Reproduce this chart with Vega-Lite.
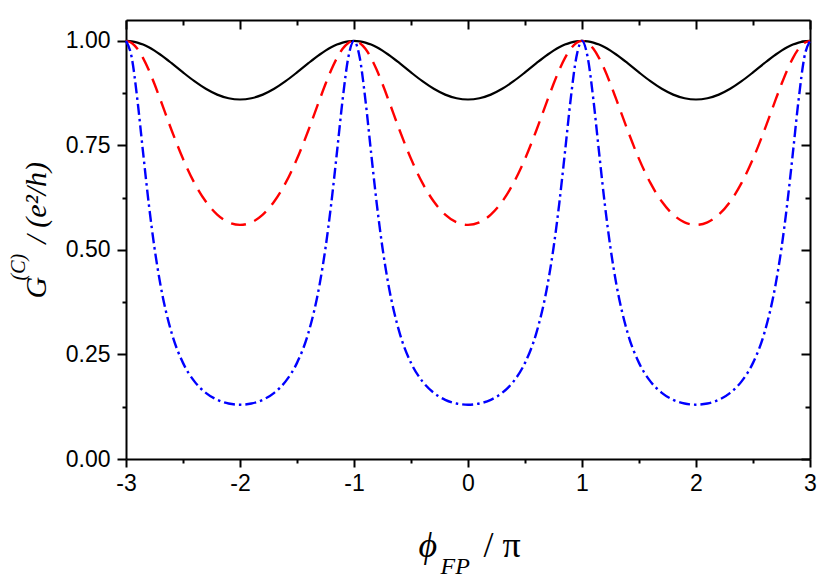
{
  "$schema": "https://vega.github.io/schema/vega-lite/v6.json",
  "width": 684,
  "height": 439,
  "autosize": {"type": "none"},
  "padding": {"left": 126, "top": 20, "right": 21, "bottom": 124},
  "background": "white",
  "config": {
    "view": {"stroke": null},
    "axis": {
      "grid": false,
      "domainColor": "black",
      "domainWidth": 2,
      "tickColor": "black",
      "tickWidth": 2,
      "labelFont": "Liberation Sans",
      "labelFontSize": 23,
      "labelColor": "black",
      "titleFont": "Liberation Serif",
      "titleFontStyle": "italic",
      "titleFontWeight": "normal",
      "titleColor": "black"
    }
  },
  "data": {
    "values": [
      {"x": -3, "k": 1, "r": 1, "b": 1},
      {"x": -2.95, "k": 0.999, "r": 0.9952, "b": 0.9604},
      {"x": -2.9, "k": 0.996, "r": 0.9811, "b": 0.8592},
      {"x": -2.85, "k": 0.9912, "r": 0.9589, "b": 0.7325},
      {"x": -2.8, "k": 0.9847, "r": 0.9302, "b": 0.6098},
      {"x": -2.75, "k": 0.9767, "r": 0.8968, "b": 0.5047},
      {"x": -2.7, "k": 0.9675, "r": 0.8606, "b": 0.42},
      {"x": -2.6, "k": 0.9467, "r": 0.7864, "b": 0.3017},
      {"x": -2.5, "k": 0.9246, "r": 0.7179, "b": 0.2299},
      {"x": -2.4, "k": 0.9036, "r": 0.6603, "b": 0.1857},
      {"x": -2.3, "k": 0.8854, "r": 0.6158, "b": 0.1583},
      {"x": -2.2, "k": 0.8715, "r": 0.5845, "b": 0.1416},
      {"x": -2.1, "k": 0.8628, "r": 0.566, "b": 0.1327},
      {"x": -2, "k": 0.8598, "r": 0.5599, "b": 0.1299},
      {"x": -1.9, "k": 0.8628, "r": 0.566, "b": 0.1327},
      {"x": -1.8, "k": 0.8715, "r": 0.5845, "b": 0.1416},
      {"x": -1.7, "k": 0.8854, "r": 0.6158, "b": 0.1583},
      {"x": -1.6, "k": 0.9036, "r": 0.6603, "b": 0.1857},
      {"x": -1.5, "k": 0.9246, "r": 0.7179, "b": 0.2299},
      {"x": -1.4, "k": 0.9467, "r": 0.7864, "b": 0.3017},
      {"x": -1.3, "k": 0.9675, "r": 0.8606, "b": 0.42},
      {"x": -1.25, "k": 0.9767, "r": 0.8968, "b": 0.5047},
      {"x": -1.2, "k": 0.9847, "r": 0.9302, "b": 0.6098},
      {"x": -1.15, "k": 0.9912, "r": 0.9589, "b": 0.7325},
      {"x": -1.1, "k": 0.996, "r": 0.9811, "b": 0.8592},
      {"x": -1.05, "k": 0.999, "r": 0.9952, "b": 0.9604},
      {"x": -1, "k": 1, "r": 1, "b": 1},
      {"x": -0.95, "k": 0.999, "r": 0.9952, "b": 0.9604},
      {"x": -0.9, "k": 0.996, "r": 0.9811, "b": 0.8592},
      {"x": -0.85, "k": 0.9912, "r": 0.9589, "b": 0.7325},
      {"x": -0.8, "k": 0.9847, "r": 0.9302, "b": 0.6098},
      {"x": -0.75, "k": 0.9767, "r": 0.8968, "b": 0.5047},
      {"x": -0.7, "k": 0.9675, "r": 0.8606, "b": 0.42},
      {"x": -0.6, "k": 0.9467, "r": 0.7864, "b": 0.3017},
      {"x": -0.5, "k": 0.9246, "r": 0.7179, "b": 0.2299},
      {"x": -0.4, "k": 0.9036, "r": 0.6603, "b": 0.1857},
      {"x": -0.3, "k": 0.8854, "r": 0.6158, "b": 0.1583},
      {"x": -0.2, "k": 0.8715, "r": 0.5845, "b": 0.1416},
      {"x": -0.1, "k": 0.8628, "r": 0.566, "b": 0.1327},
      {"x": 0, "k": 0.8598, "r": 0.5599, "b": 0.1299},
      {"x": 0.1, "k": 0.8628, "r": 0.566, "b": 0.1327},
      {"x": 0.2, "k": 0.8715, "r": 0.5845, "b": 0.1416},
      {"x": 0.3, "k": 0.8854, "r": 0.6158, "b": 0.1583},
      {"x": 0.4, "k": 0.9036, "r": 0.6603, "b": 0.1857},
      {"x": 0.5, "k": 0.9246, "r": 0.7179, "b": 0.2299},
      {"x": 0.6, "k": 0.9467, "r": 0.7864, "b": 0.3017},
      {"x": 0.7, "k": 0.9675, "r": 0.8606, "b": 0.42},
      {"x": 0.75, "k": 0.9767, "r": 0.8968, "b": 0.5047},
      {"x": 0.8, "k": 0.9847, "r": 0.9302, "b": 0.6098},
      {"x": 0.85, "k": 0.9912, "r": 0.9589, "b": 0.7325},
      {"x": 0.9, "k": 0.996, "r": 0.9811, "b": 0.8592},
      {"x": 0.95, "k": 0.999, "r": 0.9952, "b": 0.9604},
      {"x": 1, "k": 1, "r": 1, "b": 1},
      {"x": 1.05, "k": 0.999, "r": 0.9952, "b": 0.9604},
      {"x": 1.1, "k": 0.996, "r": 0.9811, "b": 0.8592},
      {"x": 1.15, "k": 0.9912, "r": 0.9589, "b": 0.7325},
      {"x": 1.2, "k": 0.9847, "r": 0.9302, "b": 0.6098},
      {"x": 1.25, "k": 0.9767, "r": 0.8968, "b": 0.5047},
      {"x": 1.3, "k": 0.9675, "r": 0.8606, "b": 0.42},
      {"x": 1.4, "k": 0.9467, "r": 0.7864, "b": 0.3017},
      {"x": 1.5, "k": 0.9246, "r": 0.7179, "b": 0.2299},
      {"x": 1.6, "k": 0.9036, "r": 0.6603, "b": 0.1857},
      {"x": 1.7, "k": 0.8854, "r": 0.6158, "b": 0.1583},
      {"x": 1.8, "k": 0.8715, "r": 0.5845, "b": 0.1416},
      {"x": 1.9, "k": 0.8628, "r": 0.566, "b": 0.1327},
      {"x": 2, "k": 0.8598, "r": 0.5599, "b": 0.1299},
      {"x": 2.1, "k": 0.8628, "r": 0.566, "b": 0.1327},
      {"x": 2.2, "k": 0.8715, "r": 0.5845, "b": 0.1416},
      {"x": 2.3, "k": 0.8854, "r": 0.6158, "b": 0.1583},
      {"x": 2.4, "k": 0.9036, "r": 0.6603, "b": 0.1857},
      {"x": 2.5, "k": 0.9246, "r": 0.7179, "b": 0.2299},
      {"x": 2.6, "k": 0.9467, "r": 0.7864, "b": 0.3017},
      {"x": 2.7, "k": 0.9675, "r": 0.8606, "b": 0.42},
      {"x": 2.75, "k": 0.9767, "r": 0.8968, "b": 0.5047},
      {"x": 2.8, "k": 0.9847, "r": 0.9302, "b": 0.6098},
      {"x": 2.85, "k": 0.9912, "r": 0.9589, "b": 0.7325},
      {"x": 2.9, "k": 0.996, "r": 0.9811, "b": 0.8592},
      {"x": 2.95, "k": 0.999, "r": 0.9952, "b": 0.9604},
      {"x": 3, "k": 1, "r": 1, "b": 1}
    ]
  },
  "layer": [
    {
      "mark": {"type": "line", "color": "black", "strokeWidth": 2.2, "interpolate": "monotone"},
      "encoding": {
        "x": {
          "field": "x", "type": "quantitative",
          "scale": {"domain": [-3, 3], "nice": false, "zero": false},
          "axis": {
            "orient": "bottom",
            "values": [-3, -2.5, -2, -1.5, -1, -0.5, 0, 0.5, 1, 1.5, 2, 2.5, 3],
            "tickSize": {"condition": {"test": "datum.value % 1 === 0", "value": 8}, "value": 4},
            "labelExpr": "datum.value % 1 === 0 ? '' + datum.value : ''",
            "labelFont": "Liberation Sans",
            "labelFontSize": 23,
            "labelPadding": 5,
            "labelFlush": false,
            "labelOverlap": false,
            "title": "ϕ",
            "titleFontSize": 36,
            "titleAngle": 0,
            "titleAlign": "left",
            "titleBaseline": "alphabetic",
            "titleX": 292,
            "titleY": 97
          }
        },
        "y": {
          "field": "k", "type": "quantitative",
          "scale": {"domain": [0, 1.05], "nice": false, "zero": false},
          "axis": {
            "orient": "left",
            "values": [0, 0.125, 0.25, 0.375, 0.5, 0.625, 0.75, 0.875, 1],
            "tickSize": {"condition": {"test": "datum.value % 0.25 === 0", "value": 9}, "value": 4},
            "labelExpr": "datum.value % 0.25 === 0 ? format(datum.value, '.2f') : ''",
            "labelFont": "Liberation Sans",
            "labelFontSize": 23,
            "labelPadding": 7,
            "labelFlush": false,
            "labelOverlap": false,
            "title": "G",
            "titleFontSize": 30,
            "titleAngle": -90,
            "titleAlign": "left",
            "titleBaseline": "alphabetic",
            "titleX": -81,
            "titleY": 278
          }
        }
      }
    },
    {
      "mark": {"type": "line", "color": "#ff0000", "strokeWidth": 2.4, "strokeDash": [15, 9], "interpolate": "monotone"},
      "encoding": {
        "x": {
          "field": "x", "type": "quantitative",
          "scale": {"domain": [-3, 3], "nice": false, "zero": false},
          "axis": {
            "orient": "top",
            "values": [-3, -2.5, -2, -1.5, -1, -0.5, 0, 0.5, 1, 1.5, 2, 2.5, 3],
            "tickSize": {"condition": {"test": "datum.value % 1 === 0", "value": -9}, "value": -5},
            "labels": false,
            "title": "FP",
            "titleFontSize": 24,
            "titleAngle": 0,
            "titleAlign": "left",
            "titleBaseline": "alphabetic",
            "titleX": 314,
            "titleY": 553
          }
        },
        "y": {
          "field": "r", "type": "quantitative",
          "scale": {"domain": [0, 1.05], "nice": false, "zero": false},
          "axis": {
            "orient": "right",
            "values": [0, 0.125, 0.25, 0.375, 0.5, 0.625, 0.75, 0.875, 1],
            "tickSize": {"condition": {"test": "datum.value % 0.25 === 0", "value": -9}, "value": -5},
            "labels": false,
            "title": "(C)",
            "titleFontSize": 20,
            "titleAngle": -90,
            "titleAlign": "left",
            "titleBaseline": "alphabetic",
            "titleX": -786,
            "titleY": 260
          }
        }
      }
    },
    {
      "mark": {"type": "line", "color": "#0000ff", "strokeWidth": 2.4, "strokeDash": [11, 4, 2.5, 4], "interpolate": "monotone"},
      "encoding": {
        "x": {
          "field": "x", "type": "quantitative",
          "scale": {"domain": [-3, 3], "nice": false, "zero": false},
          "axis": {
            "orient": "bottom",
            "domain": false,
            "ticks": false,
            "labels": false,
            "title": "/  π",
            "titleFontStyle": "normal",
            "titleFontSize": 36,
            "titleAngle": 0,
            "titleAlign": "left",
            "titleBaseline": "alphabetic",
            "titleX": 357,
            "titleY": 97
          }
        },
        "y": {
          "field": "b", "type": "quantitative",
          "scale": {"domain": [0, 1.05], "nice": false, "zero": false},
          "axis": {
            "orient": "left",
            "domain": false,
            "ticks": false,
            "labels": false,
            "title": "/ (e²/h)",
            "titleFontSize": 30,
            "titleAngle": -90,
            "titleAlign": "left",
            "titleBaseline": "alphabetic",
            "titleX": -81,
            "titleY": 223
          }
        }
      }
    }
  ],
  "resolve": {"axis": {"x": "independent", "y": "independent"}}
}
